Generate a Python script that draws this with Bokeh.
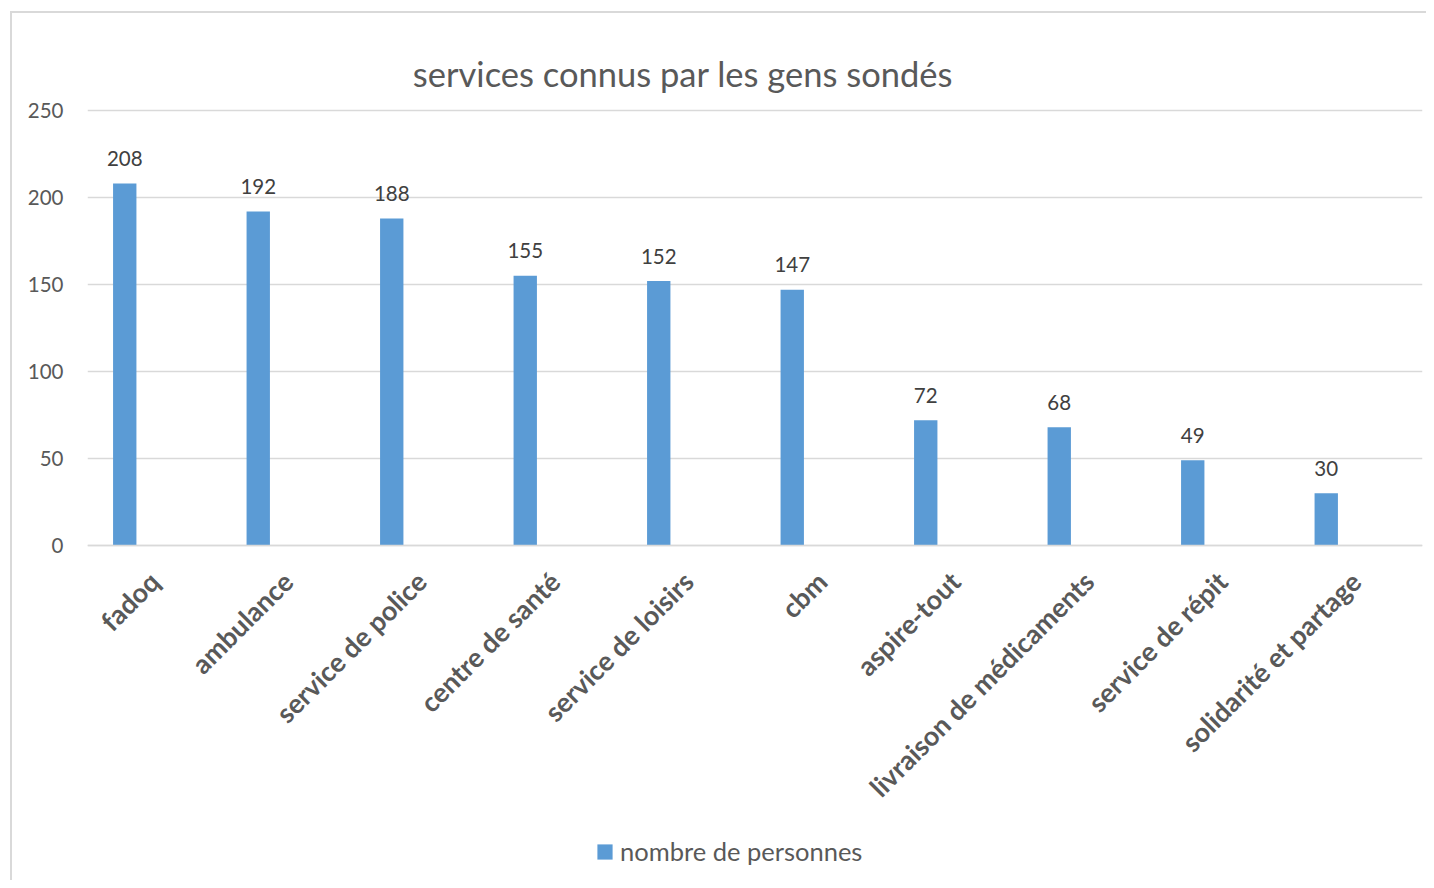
import math
from bokeh.plotting import figure
from bokeh.models import (ColumnDataSource, FactorRange, Range1d, Legend, LegendItem,
                          FixedTicker, Label)
from bokeh.transform import dodge
from bokeh.core.properties import value
from bokeh.embed import file_html
from bokeh.resources import INLINE

categories = ["fadoq", "ambulance", "service de police", "centre de santé", "service de loisirs",
              "cbm", "aspire-tout", "livraison de médicaments", "service de répit",
              "solidarité et partage"]
counts = [208, 192, 188, 155, 152, 147, 72, 68, 49, 30]
y_ticks = [0, 50, 100, 150, 200, 250]
series_name = "nombre de personnes"
title_text = "services connus par les gens sondés"

FONT = "Lato"
TXT = "#595959"
BAR = "#5B9BD5"
GRID = "#D9D9D9"

W, H = 1426, 880
LEFT, RIGHT = 87, 1422
ZERO_Y = 545          # pixel row of value 0
PPU = 435 / 250       # pixels per unit

src = ColumnDataSource(dict(cat=categories, val=counts, lbl=[str(v) for v in counts]))

# the frame spans the full height; the x axis is pinned at value 0
p = figure(width=W, height=H, output_backend="svg", toolbar_location=None,
           x_range=FactorRange(*categories, range_padding=0),
           y_range=Range1d(-(H - ZERO_Y) / PPU, ZERO_Y / PPU),
           min_border_left=LEFT, min_border_right=W - RIGHT, min_border_top=0,
           min_border_bottom=0)
p.outline_line_color = None
p.background_fill_alpha = 0
p.border_fill_alpha = 0
# light chart-area border (left and top edges), drawn behind the transparent canvas
p.styles = {
    "background-color": "white",
    "background-image": ("linear-gradient(#D9D9D9, #D9D9D9), "
                         "linear-gradient(#D9D9D9, #D9D9D9)"),
    "background-size": "2px 100%, 100% 2px",
    "background-position": "10px 11px, 10px 11px",
    "background-repeat": "no-repeat",
}

bars = p.vbar(x=dodge("cat", -0.221, range=p.x_range), top="val", width=0.175,
              source=src, fill_color=BAR, line_color=None)

p.text(x=dodge("cat", -0.221, range=p.x_range), y="val", text="lbl", source=src,
       text_align="center", text_baseline="alphabetic", y_offset=-25,
       text_font=value(FONT), text_font_size="20.5px", text_color="#404040")

# axes
p.yaxis.ticker = FixedTicker(ticks=y_ticks)
p.yaxis.axis_line_color = None
p.yaxis.major_tick_line_color = None
p.yaxis.major_tick_out = 0
p.yaxis.major_tick_in = 0
p.yaxis.minor_tick_line_color = None
p.yaxis.major_label_standoff = 24
p.yaxis.major_label_text_font = FONT
p.yaxis.major_label_text_font_size = "20.5px"
p.yaxis.major_label_text_color = TXT

p.xaxis.fixed_location = 0
p.xaxis.axis_line_color = GRID
p.xaxis.axis_line_width = 1.5
p.xaxis.major_tick_line_color = None
p.xaxis.major_tick_out = 0
p.xaxis.major_tick_in = 0
p.xaxis.minor_tick_line_color = None
p.xaxis.major_label_orientation = math.pi / 4
p.xaxis.major_label_standoff = 31
p.xaxis.major_label_text_font = FONT
p.xaxis.major_label_text_font_style = "bold"
p.xaxis.major_label_text_font_size = "27px"
p.xaxis.major_label_text_color = TXT

p.xgrid.grid_line_color = None
p.ygrid.grid_line_color = GRID
p.ygrid.grid_line_width = 1.5
p.ygrid.ticker = FixedTicker(ticks=y_ticks)

# title (screen units measured from the frame's bottom-left)
p.add_layout(Label(x=682.5 - LEFT, y=H - 73, x_units="screen", y_units="screen",
                   text=title_text, text_align="center", text_baseline="alphabetic",
                   text_font=FONT, text_font_size="34.5px", text_color=TXT))

# legend
legend = Legend(items=[LegendItem(label=series_name, renderers=[bars])],
                location=(595 - LEFT, H - 866), orientation="horizontal",
                padding=0, margin=0, border_line_color=None, background_fill_alpha=0,
                glyph_width=19, glyph_height=19, label_height=26, label_standoff=6,
                label_text_font=FONT, label_text_font_size="25.5px", label_text_color=TXT)
p.add_layout(legend, "center")

open("out.html", "w").write(file_html(p, INLINE))
